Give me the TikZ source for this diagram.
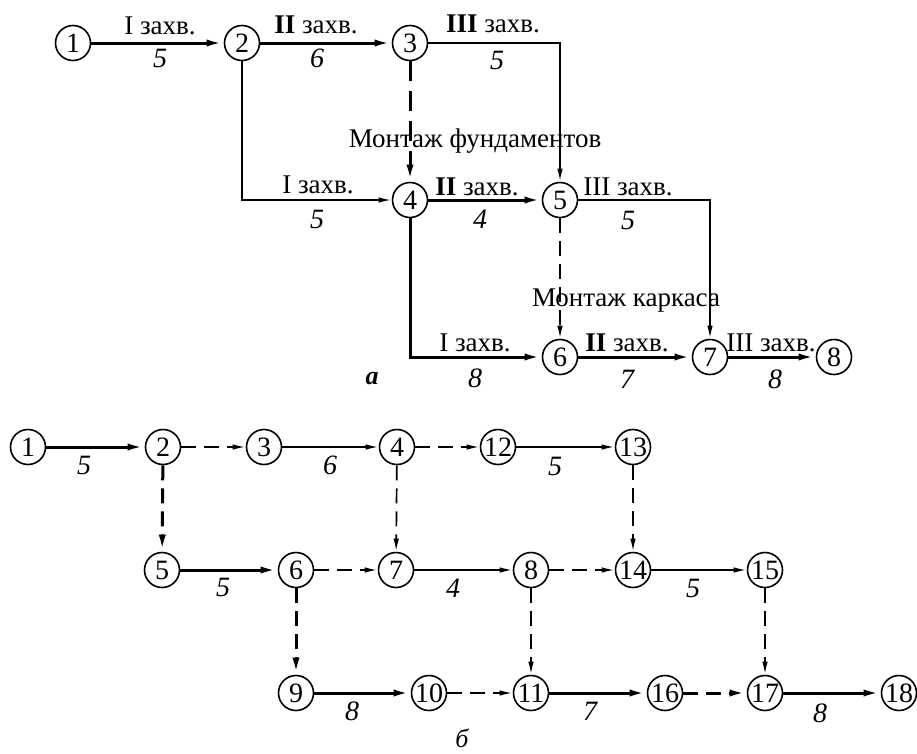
\documentclass[tikz,border=0pt]{standalone}
\usepackage{fontspec}
\setmainfont{Liberation Serif}
\usetikzlibrary{arrows.meta}
\begin{document}
\begin{tikzpicture}[x=1pt,y=-1pt,
  ev/.style={circle,draw,line width=1.6pt,minimum size=35pt,inner sep=0pt,font=\fontsize{28}{28}\selectfont},
  thk/.style={line width=3pt,-{Latex[length=17pt,width=7pt]}},
  thn/.style={line width=1.7pt,-{Latex[length=13pt,width=5.5pt]}},
  dsh/.style={dash pattern=on 20pt off 10pt},
  dshs/.style={dash pattern=on 15pt off 8pt},
  lbl/.style={font=\fontsize{27}{27}\selectfont,inner sep=0pt},
  num/.style={font=\fontsize{28}{28}\selectfont\itshape,inner sep=0pt}]
\useasboundingbox (0,0) rectangle (917,753);
% ---------- diagram a ----------
\node[ev] (a1) at (73,43) {1};
\node[ev] (a2) at (242,43) {2};
\node[ev] (a3) at (410,43) {3};
\node[ev] (a4) at (410,200) {4};
\node[ev] (a5) at (560,200) {5};
\node[ev] (a6) at (560,357) {6};
\node[ev] (a7) at (710,357) {7};
\node[ev] (a8) at (834,357) {8};
\draw[thk] (a1) -- (a2);
\draw[thk] (a2) -- (a3);
\draw[thn] (a3) -| (a5);
\draw[thk,dsh] (a3) -- (a4);
\draw[thn] (a2) |- (a4);
\draw[thk] (a4) -- (a5);
\draw[thn] (a5) -| (a7);
\draw[thn,dshs] (a5) -- (a6);
\draw[thk] (a4) |- (a6);
\draw[thk] (a6) -- (a7);
\draw[thk] (a7) -- (a8);
\node[lbl] (t12) at (160,26) {I захв.};
\node[num] (n12) at (160,58) {5};
\node[lbl] (t23) at (316,25) {{\bfseries II} захв.};
\node[num] (n23) at (317,58) {6};
\node[lbl] (t35) at (493,24) {{\bfseries III} захв.};
\node[num] (n35) at (497,60) {5};
\node[lbl] (tf) at (475,141) {Монтаж фундаментов};
\node[lbl] (t24) at (318,185) {I захв.};
\node[num] (n24) at (317,219) {5};
\node[lbl] (t45) at (477,187) {{\bfseries II} захв.};
\node[num] (n45) at (480,219) {4};
\node[lbl] (t57) at (628,187) {III захв.};
\node[num] (n57) at (628,220) {5};
\node[lbl] (tk) at (626,301) {Монтаж каркаса};
\node[lbl] (t46) at (475,343) {I захв.};
\node[num] (n46) at (475,378) {8};
\node[lbl] (t67) at (627,343) {{\bfseries II} захв.};
\node[num] (n67) at (627,379) {7};
\node[lbl] (t78) at (771,343) {III захв.};
\node[num] (n78) at (775,379) {8};
\node[font=\fontsize{26}{26}\selectfont\bfseries\itshape,inner sep=0pt] (capa) at (372,379) {а};
% ---------- diagram b ----------
\node[ev] (b1) at (28,447) {1};
\node[ev] (b2) at (163,447) {2};
\node[ev] (b3) at (264,447) {3};
\node[ev] (b4) at (397,447) {4};
\node[ev] (b12) at (498,447) {12};
\node[ev] (b13) at (633,447) {13};
\node[ev] (b5) at (162,570) {5};
\node[ev] (b6) at (296,570) {6};
\node[ev] (b7) at (396,570) {7};
\node[ev] (b8) at (531,570) {8};
\node[ev] (b14) at (633,570) {14};
\node[ev] (b15) at (765,570) {15};
\node[ev] (b9) at (296,693) {9};
\node[ev] (b10) at (429,693) {10};
\node[ev] (b11) at (531,693) {11};
\node[ev] (b16) at (665,693) {16};
\node[ev] (b17) at (765,693) {17};
\node[ev] (b18) at (899,693) {18};
\draw[thk] (b1) -- (b2);
\draw[thk] (b5) -- (b6);
\draw[thk] (b9) -- (b10);
\draw[thk] (b11) -- (b16);
\draw[thk] (b17) -- (b18);
\draw[thn] (b3) -- (b4);
\draw[thn] (b12) -- (b13);
\draw[thn] (b7) -- (b8);
\draw[thn] (b14) -- (b15);
\draw[thk,dshs] (b2) -- (b5);
\draw[thk,dshs] (b6) -- (b9);
\draw[thk,dshs] (b16) -- (b17);
\draw[thn,dshs] (b2) -- (b3);
\draw[thn,dshs] (b4) -- (b12);
\draw[thn,dshs] (b4) -- (b7);
\draw[thn,dshs] (b13) -- (b14);
\draw[thn,dshs] (b6) -- (b7);
\draw[thn,dshs] (b8) -- (b14);
\draw[thn,dshs] (b8) -- (b11);
\draw[thn,dshs] (b15) -- (b17);
\draw[thn,dshs] (b10) -- (b11);
\node[num] (m12) at (84,465) {5};
\node[num] (m34) at (330,465) {6};
\node[num] (m1213) at (555,466) {5};
\node[num] (m56) at (223,587) {5};
\node[num] (m78) at (453,588) {4};
\node[num] (m1415) at (693,588) {5};
\node[num] (m910) at (352,711) {8};
\node[num] (m1116) at (590,711) {7};
\node[num] (m1718) at (820,713) {8};
\node[font=\fontsize{26}{26}\selectfont\itshape,inner sep=0pt] (capb) at (462,738) {б};
\end{tikzpicture}
\end{document}
